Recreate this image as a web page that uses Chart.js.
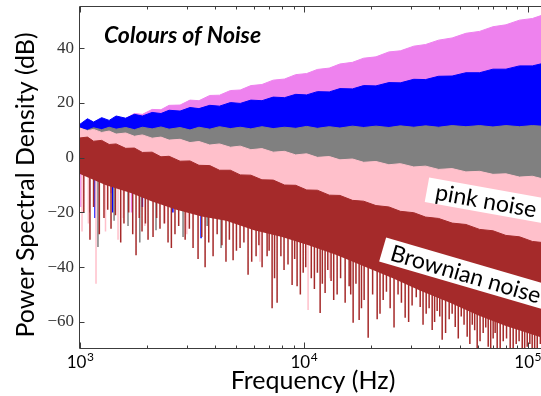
<!DOCTYPE html>
<html>
<head>
<meta charset="utf-8">
<script src="https://cdn.jsdelivr.net/npm/chart.js@4.4.1/dist/chart.umd.min.js"></script>
<style>
  html, body { margin: 0; padding: 0; background: #fff; overflow: hidden; }
  #wrap { width: 560px; height: 396px; }
</style>
</head>
<body>
<div id="wrap"><canvas id="chart" width="560" height="396"></canvas></div>
<script>
// upper edge of every noise band (Hz / dB)
const topHz = [1000, 1080, 1150, 1250, 1350, 1450, 1600, 1750, 1900, 2100, 2300, 2500, 2800, 3100, 3400,
  3800, 4200, 4700, 5200, 5800, 6500, 7300, 8200, 9200, 10300, 11500, 13000, 14500, 16500, 18500,
  21000, 24000, 27000, 31000, 35000, 40000, 46000, 53000, 61000, 70000, 80000, 92000, 105000, 120000, 130000];
const violetTopDb = [10.2, 11.8, 11.4, 13.1, 12.9, 14.4, 14.3, 16.1, 15.8, 17.6, 17.5, 19.1, 19.2, 21, 20.8,
  22.7, 22.8, 24.5, 24.7, 26.3, 26.7, 28.3, 28.7, 30.3, 30.7, 32.2, 32.7, 34.2, 34.8, 36.3,
  36.8, 38.6, 39, 40.7, 41.3, 42.9, 43.7, 45.4, 46.1, 47.8, 48.5, 50.2, 50.8, 52.4, 52.9];
const blueTopDb = [12.2, 14.2, 13, 14.6, 13.6, 15.2, 14.4, 15.8, 15.2, 16.5, 16.1, 17.3, 17, 18.3, 17.9,
  19.1, 18.8, 20.1, 19.8, 21, 20.8, 22.1, 21.9, 23.1, 22.9, 24.1, 24, 25.2, 25.1, 26.3,
  26.2, 27.4, 27.3, 28.6, 28.5, 29.7, 29.8, 31, 31, 32.3, 32.3, 33.5, 33.5, 34.6, 34.8];
const greyTopDb = [10.6, 10, 10.9, 10.2, 11.1, 10.4, 11, 10.2, 11.1, 10.5, 11.2, 10.4, 11, 10.1, 11.1,
  10.4, 11.3, 10.6, 11.1, 10.5, 11.3, 10.6, 11.1, 10.7, 11.4, 10.7, 11.3, 10.8, 11.5, 11,
  11.5, 11, 11.6, 11.1, 11.6, 11.1, 11.7, 11.3, 11.7, 11.2, 11.7, 11.3, 11.7, 11.4, 11.5];
const pinkTopDb = [10.8, 9.8, 10.3, 9.2, 9.7, 8.6, 9, 7.8, 8.3, 7.1, 7.5, 6.4, 6.7, 5.5, 5.9,
  4.6, 5, 3.8, 4.2, 2.9, 3.3, 2, 2.3, 1, 1.4, 0.1, 0.4, -0.8, -0.5, -1.7,
  -1.4, -2.6, -2.2, -3.4, -3.1, -4.3, -4, -5.2, -5, -6.1, -5.9, -7.1, -6.8, -8, -7.8];
const brownTopDb = [7.2, 7.5, 6, 6.3, 4.8, 5, 3.4, 3.5, 1.9, 2, 0.3, 0.5, -1.3, -1.2, -2.8,
  -2.9, -4.6, -4.6, -6.3, -6.4, -8.1, -8.2, -10, -10.1, -11.8, -11.9, -13.7, -13.8, -15.6, -15.9,
  -17.5, -18, -19.6, -20.1, -21.7, -22.2, -23.9, -24.4, -26.2, -26.7, -28.4, -28.9, -30.6, -31.1, -32.1];

// lower edge of the dense part of each band
const floorHz = [1000, 1300, 1700, 2100, 2700, 3500, 4500, 6000, 8000, 10500, 14000, 19000, 25000,
  33000, 45000, 60000, 80000, 100000, 130000];
const brownFloorDb = [-6, -10, -13, -16, -19, -21.5, -23, -26.5, -29, -32, -35.5, -40, -44,
  -48.5, -53, -57.5, -61.5, -64, -67];
const upperFloorDb = [-4, -7, -10, -12, -14, -16, -17, -20, -22, -24, -27, -30, -33,
  -36, -40, -43, -46, -48, -50]; // mostly hidden under the brown band

// single dips below the dense part: [Hz, from dB, down to dB]
const brownSpikes = [[1040, -3, -20], [1108, -5, -30], [1150, -6, -18], [1220, -7, -28], [1280, -6, -22],
  [1330, -8, -19], [1376, -7, -26], [1440, -9, -21], [1520, -10, -31], [1572, -9, -24],
  [1650, -11, -20], [1720, -11, -28], [1780, -10, -35.6], [1840, -12, -22], [1893, -11, -27],
  [1960, -13, -24], [2014, -12, -30], [2120, -14, -29], [2200, -14, -22], [2277, -13, -26],
  [2380, -15, -24], [2474, -14, -31], [2560, -16, -33], [2657, -15, -28], [2760, -17, -25],
  [2950, -17, -30], [3080, -18, -26], [3200, -17, -33], [3369, -18, -37], [3500, -19, -29],
  [3622, -18, -40], [3760, -19, -31], [3932, -19, -36], [4100, -20, -28], [4306, -19, -32],
  [4490, -19, -38], [4650, -21, -30], [4831, -20, -37.5], [5000, -22, -34], [5190, -21, -33],
  [5400, -23, -31], [5636, -22, -42.8], [5850, -23, -38], [6120, -23, -36], [6300, -24, -32],
  [6510, -24, -40], [6855, -24, -36], [7000, -25, -34], [7217, -25, -55], [7400, -26, -44],
  [7598, -25, -53], [7900, -26, -36], [8160, -26, -41], [8500, -27, -39], [8866, -27, -46.5],
  [9100, -28, -37], [9333, -27, -47], [9650, -28, -50], [9936, -28, -42], [10200, -29, -40],
  [10800, -30, -44], [11150, -29, -48], [11500, -31, -42], [11830, -30, -56.7], [12100, -31, -46],
  [12450, -30, -49.4], [12800, -32, -41], [13240, -31, -45], [13600, -33, -52], [14090, -32, -50],
  [14600, -34, -44], [15300, -33, -53], [15940, -33, -47], [16200, -35, -50], [16610, -34, -60.3],
  [17100, -36, -46], [17670, -35, -59.3], [18100, -37, -55], [18600, -36, -52], [19390, -36, -65.8],
  [20300, -38, -50], [21270, -38, -59], [21900, -39, -57], [22630, -39, -52], [23400, -40, -49],
  [24310, -40, -55], [25300, -41, -62], [26370, -41, -50], [27300, -42, -53], [28370, -42, -58.5],
  [29400, -43, -60], [30470, -43, -54], [31800, -44, -51], [33110, -44, -54.5], [34100, -45, -61],
  [35220, -45, -57], [36300, -46, -55], [37460, -46, -62.9], [38400, -47, -60], [39430, -46, -56],
  [40500, -47, -58], [41520, -47, -66.5], [43000, -48, -64], [44620, -48, -59], [46000, -49, -57],
  [47480, -49, -61.8], [49000, -50, -66], [50520, -50, -58], [52000, -51, -61], [53700, -51, -65.4],
  [55200, -52, -68], [56590, -52, -61], [58000, -52, -63], [59520, -52, -69.5], [61300, -53, -67],
  [63300, -53, -64], [65000, -54, -62], [66670, -54, -69], [68400, -55, -70], [70150, -55, -66],
  [71600, -55, -64], [73120, -55, -70], [75400, -56, -70], [77810, -56, -67], [80500, -57, -66],
  [83590, -57, -70], [86200, -58, -70], [88920, -58, -68], [91600, -59, -67], [94600, -59, -70],
  [97000, -60, -70], [99600, -60, -69], [102300, -60, -68], [104800, -60, -70], [107500, -61, -70],
  [110400, -61, -70], [114000, -62, -68], [118000, -62, -70], [122000, -63, -70]];
const pinkSpikes = [[1021, -4, -27], [1090, -5, -24], [1179, -5, -46], [1300, -6, -27], [1479, -7, -30],
  [1560, -8, -22], [1950, -9, -25], [2400, -12, -24], [3000, -14, -28], [6370, -18, -38],
  [10450, -22, -55.6], [13080, -25, -44]];
const greySpikes = [[1100, -5, -20], [1203, -5, -32.6], [1420, -7, -23], [1639, -8, -25], [1850, -9, -31],
  [2186, -10, -26.5], [2887, -12, -29], [3700, -14, -25], [4269, -15, -33]];
const blueSpikes = [[1167, -5, -22], [1400, -6, -20], [1900, -9, -18], [2600, -11, -20], [3475, -13, -29.4]];
const violetSpikes = [[1010, -4, -18], [1100, -5, -16], [1376, -6, -13], [1700, -8, -20], [2160, -9, -15]];

const xTicks = [1e3, 1e4, 1e5];
const xTickExp = ["3", "4", "5"];
const yTicks = [-60, -40, -20, 0, 20, 40];

const labelTexts = ["pink noise", "Brownian noise"];
const labelHz = [35500, 22500];
const labelDb = [-11.7, -33.5];
const labelAngle = [10.2, 16.3];

function pts(hz, db) {
  return hz.map((h, i) => ({ x: h, y: db[i] }));
}

function spikePts(list) {
  const out = [];
  list.forEach(([h, from, low]) => out.push({ x: h, y: from }, { x: h, y: low }, { x: h, y: null }));
  return out;
}

// drawn top to bottom: brown over pink over grey over blue over violet
const bands = [
  { color: "#a52a2a", top: brownTopDb, floor: brownFloorDb, spikes: brownSpikes },
  { color: "#ffc0cb", top: pinkTopDb, floor: upperFloorDb, spikes: pinkSpikes },
  { color: "#808080", top: greyTopDb, floor: upperFloorDb, spikes: greySpikes },
  { color: "#0000ff", top: blueTopDb, floor: upperFloorDb, spikes: blueSpikes },
  { color: "#ee82ee", top: violetTopDb, floor: upperFloorDb, spikes: violetSpikes },
];

const datasets = [];
bands.forEach((b, k) => {
  const idx = datasets.length;
  datasets.push({ data: pts(topHz, b.top), borderColor: b.color, backgroundColor: b.color,
    borderWidth: 1, fill: idx + 1, order: 2 * k + 1, clip: 0 });
  datasets.push({ data: pts(floorHz, b.floor), borderColor: "rgba(0,0,0,0)", borderWidth: 0,
    fill: false, order: 2 * k + 1, clip: 0 });
  datasets.push({ data: spikePts(b.spikes), borderColor: b.color, borderWidth: 1.5,
    fill: false, spanGaps: false, order: 2 * k + 2, clip: 0 });
});

const decorations = {
  id: "decorations",
  afterDatasetsDraw(chart) {
    const { ctx, chartArea: area, scales } = chart;
    const xs = scales.x, ys = scales.y;
    ctx.save();
    // white label boxes
    ctx.font = "23px Lato";
    ctx.textBaseline = "middle";
    ctx.textAlign = "left";
    labelTexts.forEach((text, i) => {
      ctx.save();
      ctx.translate(xs.getPixelForValue(labelHz[i]), ys.getPixelForValue(labelDb[i]));
      ctx.rotate(labelAngle[i] * Math.PI / 180);
      ctx.fillStyle = "#fff";
      ctx.fillRect(0, -12.5, 230, 25);
      ctx.fillStyle = "#000";
      ctx.fillText(text, 9, 1);
      ctx.restore();
    });
    // frame + inward ticks
    const L = Math.round(area.left) - 0.5, T = Math.round(area.top) - 0.5;
    const B = Math.round(area.bottom) + 0.5, R = area.right;
    ctx.strokeStyle = "#3c3c3c";
    ctx.lineWidth = 1;
    ctx.beginPath();
    ctx.moveTo(R, T); ctx.lineTo(L, T); ctx.lineTo(L, B); ctx.lineTo(R, B);
    yTicks.forEach(v => {
      const py = Math.round(ys.getPixelForValue(v)) + 0.5;
      ctx.moveTo(L, py); ctx.lineTo(L + 5, py);
    });
    xTicks.forEach(d => {
      for (let m = 1; m < 10; m++) {
        const v = d * m;
        if (v > xs.max) break;
        const px = Math.round(xs.getPixelForValue(v)) + 0.5;
        const len = m === 1 ? 6 : 3;
        ctx.moveTo(px, B); ctx.lineTo(px, B - len);
        ctx.moveTo(px, T); ctx.lineTo(px, T + len);
      }
    });
    ctx.stroke();
    ctx.restore();
  },
  afterDraw(chart) {
    const { ctx, chartArea: area, scales } = chart;
    const xs = scales.x;
    ctx.save();
    ctx.fillStyle = "#000";
    ctx.textBaseline = "alphabetic";
    ctx.textAlign = "left";
    xTicks.forEach((v, i) => {
      const px = xs.getPixelForValue(v);
      ctx.font = "17px Lato";
      const w1 = ctx.measureText("10").width;
      ctx.font = "12px Lato";
      const w2 = ctx.measureText(xTickExp[i]).width;
      const x0 = px - (w1 + w2) / 2;
      ctx.font = "17px Lato";
      ctx.fillText("10", x0, area.bottom + 20);
      ctx.font = "12px Lato";
      ctx.fillText(xTickExp[i], x0 + w1 + 0.5, area.bottom + 13);
    });
    // title inside the axes
    ctx.font = "italic bold 23px Lato";
    ctx.fillText("Colours of Noise", 104, 43);
    // axis titles
    ctx.font = "25px Lato";
    ctx.textAlign = "center";
    ctx.fillText("Frequency (Hz)", (area.left + area.right) / 2 - 2, 389);
    ctx.translate(33.5, 185);
    ctx.rotate(-Math.PI / 2);
    ctx.fillText("Power Spectral Density (dB)", 0, 0);
    ctx.restore();
  }
};

new Chart(document.getElementById("chart"), {
  type: "line",
  data: { datasets },
  plugins: [decorations],
  options: {
    responsive: false,
    animation: false,
    events: [],
    layout: { padding: { left: 0, top: 7, right: 10, bottom: 0 } },
    elements: { point: { radius: 0 }, line: { tension: 0 } },
    plugins: { legend: { display: false }, tooltip: { enabled: false } },
    scales: {
      x: {
        type: "logarithmic",
        min: 1000,
        max: Math.pow(10, 5.1),
        grid: { display: false, drawTicks: false },
        border: { display: false },
        ticks: { display: false },
        afterFit(s) { s.height = 48; s.paddingLeft = 0; s.paddingRight = 0; }
      },
      y: {
        type: "linear",
        min: -69.5,
        max: 55,
        grid: { display: false, drawTicks: false },
        border: { display: false },
        ticks: {
          font: { family: "Liberation Serif", size: 17 },
          color: "#333",
          padding: 6,
          callback: v => (v < 0 ? "\u2212" + Math.abs(v) : String(v))
        },
        afterBuildTicks(s) { s.ticks = yTicks.map(v => ({ value: v })); },
        afterFit(s) { s.width = 80; s.paddingTop = 0; s.paddingBottom = 0; }
      }
    }
  }
});
</script>
</body>
</html>
